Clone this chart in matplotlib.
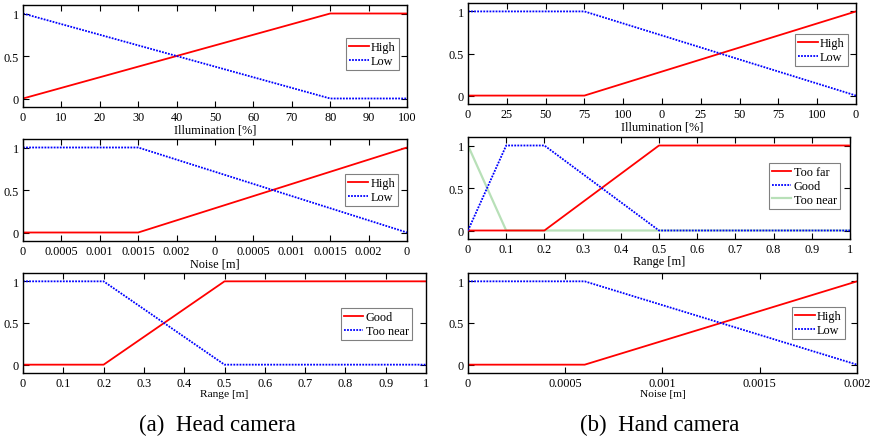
import matplotlib
matplotlib.use("Agg")
import matplotlib.pyplot as plt
import numpy as np

plt.rcParams['font.family'] = ['Liberation Serif', 'DejaVu Serif']
plt.rcParams['mathtext.fontset'] = 'stix'

# ---------------- data ----------------
head_illum_x = [0, 80, 100]
head_illum_high = [0, 1, 1]
head_illum_low = [1, 0, 0]
head_illum_ticks = [0, 10, 20, 30, 40, 50, 60, 70, 80, 90, 100]
head_illum_labels = ['0', '10', '20', '30', '40', '50', '60', '70', '80', '90', '100']

head_noise_x = [0, 0.0015, 0.005]
head_noise_high = [0, 0, 1]
head_noise_low = [1, 1, 0]
head_noise_ticks = [0, 0.0005, 0.001, 0.0015, 0.002, 0.0025, 0.003, 0.0035, 0.004, 0.0045, 0.005]
head_noise_labels = ['0', '0.0005', '0.001', '0.0015', '0.002', '0', '0.0005', '0.001', '0.0015', '0.002', '0']

head_range_x = [0, 0.2, 0.5, 1]
head_range_good = [0, 0, 1, 1]
head_range_near = [1, 1, 0, 0]
range_ticks = [0, 0.1, 0.2, 0.3, 0.4, 0.5, 0.6, 0.7, 0.8, 0.9, 1]
range_labels = ['0', '0.1', '0.2', '0.3', '0.4', '0.5', '0.6', '0.7', '0.8', '0.9', '1']

hand_illum_x = [0, 75, 250]
hand_illum_high = [0, 0, 1]
hand_illum_low = [1, 1, 0]
hand_illum_ticks = [0, 25, 50, 75, 100, 125, 150, 175, 200, 225, 250]
hand_illum_labels = ['0', '25', '50', '75', '100', '0', '25', '50', '75', '100', '0']

hand_range_x = [0, 0.1, 0.2, 0.5, 1]
hand_range_far = [0, 0, 0, 1, 1]
hand_range_good = [0, 1, 1, 0, 0]
hand_range_near = [1, 0, 0, 0, 0]

hand_noise_x = [0, 0.0006, 0.002]
hand_noise_high = [0, 0, 1]
hand_noise_low = [1, 1, 0]
hand_noise_ticks = [0, 0.0005, 0.001, 0.0015, 0.002]
hand_noise_labels = ['0', '0.0005', '0.001', '0.0015', '0.002']

y_ticks = [0, 0.5, 1]
y_labels = ['0', '0.5', '1']

# ---------------- style ----------------
RED = '#ff0000'
BLUE = '#0000ff'
GREEN = '#b8e0b8'
DOT = (0, (1, 0.7))
LW = 1.3
FS = 8.8

W, H = 875, 439
fig = plt.figure(figsize=(W / 100, H / 100), dpi=100)


def make_ax(x0, y0, x1, y1):
    return fig.add_axes([x0 / W, (H - y1) / H, (x1 - x0) / W, (y1 - y0) / H])


def style(ax, xticks, xlabels, xlabel, xlabsize=FS):
    ax.set_xlim(xticks[0], xticks[-1])
    ax.set_ylim(-0.1, 1.1)
    ax.set_xticks(xticks)
    ax.set_xticklabels(xlabels)
    ax.set_yticks(y_ticks)
    ax.set_yticklabels(y_labels)
    ax.tick_params(direction='in', top=True, right=True, length=4, width=0.8,
                   labelsize=FS, pad=3)
    for s in ax.spines.values():
        s.set_linewidth(1.0)
    ax.set_xlabel(xlabel, fontsize=xlabsize, labelpad=0)


def leg(ax, anchor, handles=None, labels=None):
    kw = dict(loc='upper right', bbox_to_anchor=anchor, fontsize=FS,
              fancybox=False, edgecolor='#808080', framealpha=1,
              handlelength=1.6, handletextpad=0.2, labelspacing=0.15,
              borderpad=0.25, borderaxespad=0)
    if handles is None:
        lg = ax.legend(**kw)
    else:
        lg = ax.legend(handles, labels, **kw)
    lg.get_frame().set_linewidth(0.8)


# Head camera: illumination
ax = make_ax(23, 6, 407, 108)
ax.plot(head_illum_x, head_illum_high, color=RED, lw=LW, label='High')
ax.plot(head_illum_x, head_illum_low, color=BLUE, lw=LW, ls=DOT, label='Low')
style(ax, head_illum_ticks, head_illum_labels, 'Illumination [%]')
leg(ax, (0.979, 0.676))

# Head camera: noise
ax = make_ax(23, 140, 407, 242)
ax.plot(head_noise_x, head_noise_high, color=RED, lw=LW, label='High')
ax.plot(head_noise_x, head_noise_low, color=BLUE, lw=LW, ls=DOT, label='Low')
style(ax, head_noise_ticks, head_noise_labels, 'Noise [m]')
leg(ax, (0.977, 0.657))

# Head camera: range
ax = make_ax(23, 274, 426, 374)
ax.plot(head_range_x, head_range_good, color=RED, lw=LW, label='Good')
ax.plot(head_range_x, head_range_near, color=BLUE, lw=LW, ls=DOT, label='Too near')
style(ax, range_ticks, range_labels, 'Range [m]', xlabsize=8.2)
leg(ax, (0.965, 0.65))

# Hand camera: illumination
ax = make_ax(468, 4, 856, 105)
ax.plot(hand_illum_x, hand_illum_high, color=RED, lw=LW, label='High')
ax.plot(hand_illum_x, hand_illum_low, color=BLUE, lw=LW, ls=DOT, label='Low')
style(ax, hand_illum_ticks, hand_illum_labels, 'Illumination [%]')
leg(ax, (0.979, 0.693))

# Hand camera: range
ax = make_ax(468, 138, 850, 240)
ax.plot(hand_range_x, hand_range_near, color=GREEN, lw=1.6, label='Too near', zorder=1)
ax.plot(hand_range_x, hand_range_far, color=RED, lw=LW, label='Too far', zorder=3)
ax.plot(hand_range_x, hand_range_good, color=BLUE, lw=LW, ls=DOT, label='Good', zorder=4)
style(ax, range_ticks, range_labels, 'Range [m]')
h, l = ax.get_legend_handles_labels()
order = [1, 2, 0]
leg(ax, (0.974, 0.745), [h[i] for i in order], [l[i] for i in order])

# Hand camera: noise
ax = make_ax(468, 274, 857, 374)
ax.plot(hand_noise_x, hand_noise_high, color=RED, lw=LW, label='High')
ax.plot(hand_noise_x, hand_noise_low, color=BLUE, lw=LW, ls=DOT, label='Low')
style(ax, hand_noise_ticks, hand_noise_labels, 'Noise [m]', xlabsize=8.2)
leg(ax, (0.969, 0.66))

# Captions
fig.text(217 / W, 1 - 425 / H, '(a)  Head camera', ha='center', va='center', fontsize=16.5)
fig.text(660 / W, 1 - 425 / H, '(b)  Hand camera', ha='center', va='center', fontsize=16.5)

fig.savefig('out.png', dpi=100)
